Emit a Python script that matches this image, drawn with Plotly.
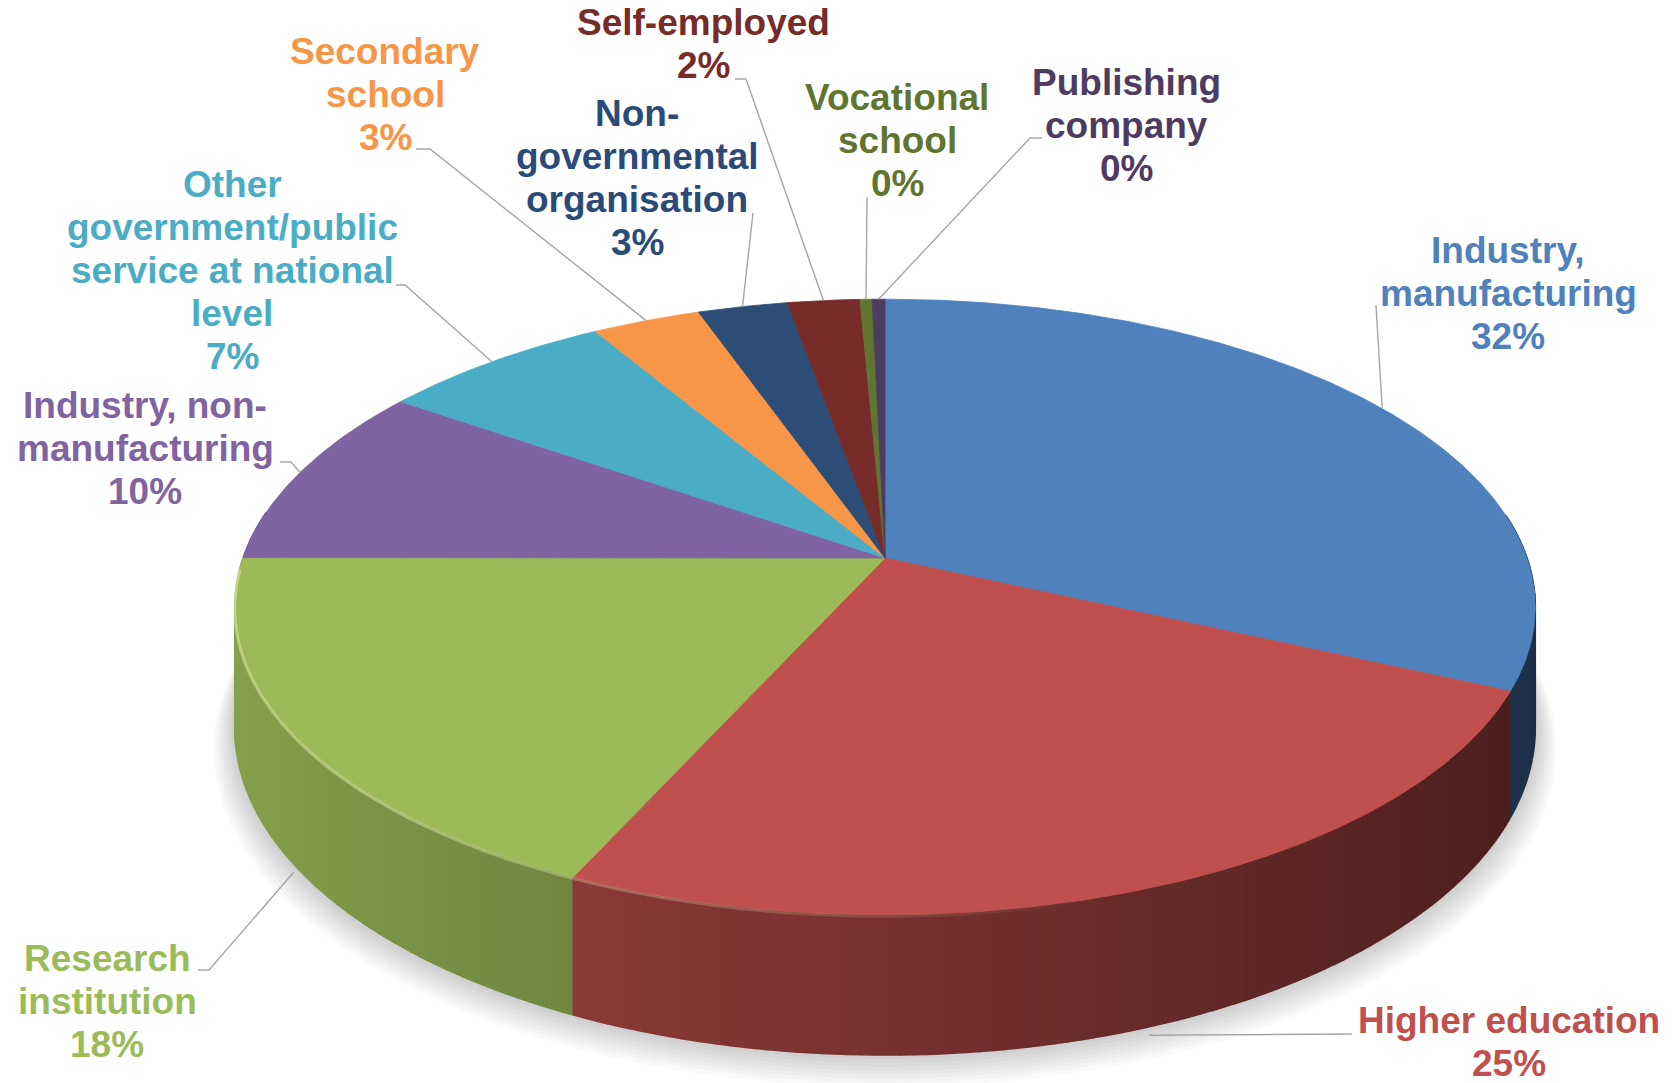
import numpy as np
import plotly.graph_objects as go

# ---------------- data ----------------
categories = ["Industry, manufacturing", "Higher education", "Research institution",
              "Industry, non-manufacturing",
              "Other government/public service at national level",
              "Secondary school", "Non-governmental organisation", "Self-employed",
              "Vocational school", "Publishing company"]
values = [31.8, 25.0, 18.2, 9.6, 6.8, 3.15, 2.6, 2.1, 0.35, 0.37]
label_lines = [["Industry,", "manufacturing"], ["Higher education"], ["Research", "institution"],
               ["Industry, non-", "manufacturing"],
               ["Other", "government/public", "service at national", "level"],
               ["Secondary", "school"], ["Non-", "governmental", "organisation"], ["Self-employed"],
               ["Vocational", "school"], ["Publishing", "company"]]

# ---------------- styles / layout ----------------
slice_colors = ["#4F81BD", "#C0504D", "#9BBB59", "#8064A2", "#4BACC6",
                "#F79646", "#2C4D75", "#772C2A", "#5F7530", "#4D3B62"]
text_colors = ["#4F81BD", "#C0504D", "#9BBB59", "#8064A2", "#4BACC6",
               "#F79646", "#2A4B77", "#772C2A", "#5F7530", "#4D3B62"]
label_x = [1508, 1509, 107, 145, 232, 385, 637, 703, 897, 1126]
label_y0 = [250, 1020, 958, 405, 184, 51, 113, 22, 97, 82]
LINE_H = 43
leader_start = [[(1376, 305)], [(1352, 1034)], [(198, 970), (209, 970)], [(280, 462), (291, 462)],
                [(396, 285), (405, 285)], [(416, 149), (430, 149)], [(753, 213)],
                [(735, 79), (746, 79)], [(867, 197)], [(1042, 138), (1030, 138)]]
leader_depth = [0, 1.06, 1.06, 0, 0, 0, 0, 0, 0, 0]

W, H = 1672, 1083
CX, CY = 885, 558          # pie centre on screen
RX, RY = 642, 300          # radii
K = 0.159                  # perspective strength
D = 118                    # pie thickness
FONT = "Liberation Sans, Arial, sans-serif"


def proj(theta, depth):
    theta = np.asarray(theta, dtype=float)
    u = np.sin(theta)
    v = -np.cos(theta)
    w = 1 - K * v
    return CX + RX * u / w, CY + (RY * v + D * depth) / w


def hex_rgb(h):
    h = h.lstrip("#")
    return tuple(int(h[i:i + 2], 16) for i in (0, 2, 4))


def shade(h, f):
    r, g, b = hex_rgb(h)
    return "rgb(%d,%d,%d)" % (min(255, r * f), min(255, g * f), min(255, b * f))


total = float(sum(values))
fracs = np.array(values) / total
bounds = np.concatenate([[0], np.cumsum(fracs)]) * 2 * np.pi

fig = go.Figure()

# soft shadow under the pie
tt = np.linspace(0, 2 * np.pi, 240)
bx, by = proj(tt, 1)
bcy = np.mean(by)
for i in range(8, 0, -1):
    s = 1 + 0.004 * i
    fig.add_trace(go.Scatter(x=CX + (bx - CX) * s, y=bcy + (by - bcy) * s + 2.5 * i,
                             fill="toself", mode="none",
                             fillcolor="rgba(0,0,0,0.022)", hoverinfo="skip"))

# side walls
quads = []
for i in range(len(values)):
    a0, a1 = bounds[i], bounds[i + 1]
    n = max(1, int(np.ceil((a1 - a0) / np.radians(1.0))))
    edges = np.linspace(a0, a1, n + 1)
    for j in range(n):
        ta, tb = edges[j], edges[j + 1]
        tm = 0.5 * (ta + tb)
        vm = -np.cos(tm)
        if vm < -0.15:
            continue
        um = np.sin(tm)
        f = 0.62 - 0.25 * um
        quads.append((vm, i, ta, tb, f))
quads.sort(key=lambda q: q[0])
for vm, i, ta, tb, f in quads:
    xt, yt = proj([ta, tb], 0)
    xb, yb = proj([tb, ta], 1)
    col = shade(slice_colors[i], f)
    fig.add_trace(go.Scatter(x=list(xt) + list(xb), y=list(yt) + list(yb),
                             fill="toself", mode="lines", fillcolor=col,
                             line=dict(color=col, width=1.6), hoverinfo="skip"))

# top faces
for i in range(len(values)):
    a0, a1 = bounds[i], bounds[i + 1]
    n = max(2, int(np.ceil((a1 - a0) / np.radians(0.5))))
    t = np.linspace(a0, a1, n + 1)
    x, y = proj(t, 0)
    fig.add_trace(go.Scatter(x=[CX] + list(x) + [CX], y=[CY] + list(y) + [CY],
                             fill="toself", mode="lines", fillcolor=slice_colors[i],
                             line=dict(color=slice_colors[i], width=0.8), hoverinfo="skip"))

# rim highlight on front edge
for i in range(len(values)):
    a0, a1 = bounds[i], bounds[i + 1]
    n = max(1, int(np.ceil((a1 - a0) / np.radians(2))))
    edges = np.linspace(a0, a1, n + 1)
    for j in range(n):
        tm = 0.5 * (edges[j] + edges[j + 1])
        um, vm = np.sin(tm), -np.cos(tm)
        if vm < 0.05:
            continue
        a = 0.4 * np.clip(0.3 - um, 0, 1)
        if a <= 0.01:
            continue
        x, y = proj(edges[j:j + 2], 0)
        fig.add_trace(go.Scatter(x=x, y=y + 1.5, mode="lines",
                                 line=dict(color="rgba(255,255,200,%.3f)" % a, width=3),
                                 hoverinfo="skip"))

# leader lines and labels
annotations = []
for i in range(len(values)):
    mid = 0.5 * (bounds[i] + bounds[i + 1])
    ex, ey = proj(mid, leader_depth[i])
    pts = leader_start[i] + [(float(ex), float(ey))]
    fig.add_trace(go.Scatter(x=[p[0] for p in pts], y=[p[1] for p in pts], mode="lines",
                             line=dict(color="#A6A6A6", width=1.4), hoverinfo="skip"))
    lines = label_lines[i] + ["%d%%" % round(fracs[i] * 100)]
    for k, ln in enumerate(lines):
        annotations.append(dict(x=label_x[i], y=label_y0[i] + k * LINE_H, text=ln,
                                showarrow=False, xanchor="center", yanchor="middle",
                                font=dict(family=FONT, size=37, color=text_colors[i],
                                          weight="bold")))

fig.update_layout(width=W, height=H, margin=dict(l=0, r=0, t=0, b=0),
                  paper_bgcolor="white", plot_bgcolor="white", showlegend=False,
                  hovermode=False, annotations=annotations,
                  xaxis=dict(range=[0, W], visible=False, fixedrange=True),
                  yaxis=dict(range=[H, 0], visible=False, fixedrange=True))

fig.write_html("out.html", config={"displayModeBar": False},
               post_script="document.body.style.margin='0';document.body.style.overflow='hidden';")
